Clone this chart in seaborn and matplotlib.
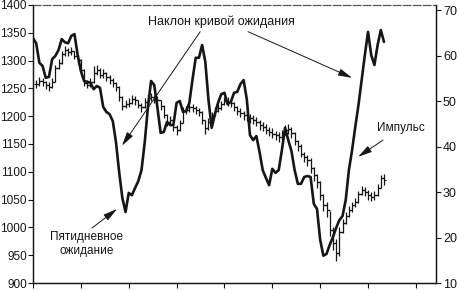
import numpy as np
import pandas as pd
import matplotlib
matplotlib.use("Agg")
import matplotlib.pyplot as plt
import seaborn as sns

# ---- data ----
price_close = [1258, 1264, 1262, 1256, 1253, 1262, 1287, 1296, 1312, 1319,
               1316, 1318, 1309, 1301, 1283, 1260, 1256, 1262, 1278, 1283,
               1274, 1278, 1271, 1265, 1260, 1253, 1235, 1219, 1222, 1224,
               1231, 1229, 1220, 1217, 1226, 1233, 1235, 1231, 1229, 1219,
               1202, 1190, 1193, 1181, 1175, 1188, 1210, 1211, 1217, 1215,
               1211, 1208, 1193, 1179, 1190, 1202, 1210, 1215, 1222, 1228,
               1226, 1224, 1217, 1210, 1206, 1202, 1199, 1197, 1193, 1190,
               1184, 1181, 1175, 1172, 1168, 1166, 1163, 1168, 1175, 1177,
               1170, 1156, 1147, 1132, 1127, 1121, 1107, 1094, 1082, 1058,
               1040, 1031, 995, 972, 954, 992, 1008, 1021, 1031, 1040,
               1046, 1060, 1067, 1064, 1058, 1055, 1058, 1071, 1089, 1085]
price_high = [1266, 1270, 1268, 1264, 1262, 1268, 1292, 1302, 1318, 1326,
              1322, 1324, 1318, 1310, 1302, 1284, 1265, 1268, 1290, 1292,
              1286, 1284, 1280, 1274, 1268, 1262, 1254, 1236, 1230, 1232,
              1238, 1236, 1230, 1224, 1232, 1240, 1242, 1238, 1236, 1230,
              1220, 1204, 1200, 1194, 1184, 1194, 1216, 1218, 1224, 1222,
              1218, 1215, 1210, 1194, 1196, 1208, 1216, 1222, 1228, 1234,
              1234, 1230, 1226, 1218, 1214, 1210, 1208, 1204, 1202, 1198,
              1194, 1190, 1186, 1180, 1178, 1174, 1172, 1176, 1184, 1186,
              1180, 1172, 1158, 1150, 1136, 1130, 1124, 1108, 1096, 1084,
              1060, 1046, 1030, 1000, 980, 1000, 1016, 1028, 1038, 1046,
              1052, 1066, 1074, 1072, 1068, 1064, 1066, 1078, 1094, 1096]
price_low = [1250, 1255, 1254, 1249, 1245, 1250, 1262, 1284, 1294, 1308,
             1309, 1310, 1302, 1294, 1278, 1255, 1250, 1252, 1260, 1274,
             1268, 1268, 1264, 1258, 1252, 1246, 1228, 1212, 1214, 1216,
             1222, 1220, 1214, 1208, 1215, 1224, 1228, 1224, 1220, 1212,
             1196, 1182, 1184, 1174, 1166, 1174, 1188, 1204, 1208, 1208,
             1204, 1200, 1186, 1168, 1176, 1188, 1200, 1208, 1212, 1220,
             1218, 1216, 1210, 1202, 1198, 1194, 1192, 1188, 1186, 1182,
             1176, 1174, 1168, 1164, 1160, 1158, 1154, 1158, 1166, 1168,
             1160, 1148, 1138, 1126, 1118, 1110, 1098, 1084, 1070, 1050,
             1030, 1018, 984, 960, 940, 948, 990, 1006, 1018, 1028,
             1036, 1044, 1058, 1056, 1050, 1048, 1050, 1056, 1070, 1076]

expectation = [63.8, 62.7, 58.4, 57.7, 55.1, 55.3, 59.2, 59.9, 61.2, 63.6,
               62.9, 62.7, 64.3, 64.7, 60.1, 56.6, 54.4, 54.2, 54.0, 52.6,
               53.3, 52.9, 48.7, 47.6, 47.1, 45.6, 41.0, 34.4, 28.7, 25.6,
               29.8, 29.3, 30.9, 32.4, 34.8, 40.8, 48.5, 54.4, 53.5, 48.5,
               43.0, 43.2, 45.4, 44.7, 44.7, 49.6, 50.0, 47.6, 47.8, 49.6,
               54.8, 59.5, 59.5, 62.3, 58.6, 50.2, 44.1, 47.1, 49.6, 51.5,
               51.8, 49.3, 49.8, 51.8, 52.0, 53.7, 54.6, 50.4, 42.5, 41.4,
               42.3, 38.8, 34.8, 33.1, 31.5, 35.1, 34.2, 34.8, 39.2, 44.1,
               41.4, 39.0, 34.8, 31.8, 31.8, 33.3, 33.5, 33.3, 27.4, 26.3,
               19.5, 16.0, 16.4, 18.4, 20.1, 22.1, 23.8, 24.7, 28.2, 34.8,
               39.2, 44.3, 49.1, 54.6, 60.1, 65.2, 60.1, 57.9, 62.3, 65.6,
               63.0]

left_ticks = [900, 950, 1000, 1050, 1100, 1150, 1200, 1250, 1300, 1350, 1400]
right_ticks = [10, 20, 30, 40, 50, 60, 70]

label_slope = "Наклон кривой ожидания"
label_five = "Пятидневное\nожидание"
label_impulse = "Импульс"

# ---- style ----
sns.set_theme(style="ticks")
plt.rcParams["font.family"] = ["Liberation Sans", "DejaVu Sans"]
INK = "#161616"

bar_days = np.arange(1, len(price_close) + 1)
price_open = [price_close[0]] + price_close[:-1]
line_df = pd.DataFrame({"day": np.arange(len(expectation)), "value": expectation})

fig = plt.figure(figsize=(4.59, 2.90), dpi=100)
ax = fig.add_axes([33 / 459, 7 / 290, (436 - 33) / 459, (283 - 5) / 290])
ax2 = ax.twinx()

# OHLC price bars
ax.vlines(bar_days, price_low, price_high, color=INK, lw=0.9)
ax.hlines(price_open, bar_days - 0.7, bar_days, color=INK, lw=0.9)
ax.hlines(price_close, bar_days, bar_days + 0.7, color=INK, lw=0.9)

# thick expectation curve on the right axis
sns.lineplot(data=line_df, x="day", y="value", ax=ax2, color=INK, lw=1.9,
             legend=False)

ax.set_xlim(0, 126.3)
ax.set_ylim(900, 1400)
ax2.set_ylim(10, 71.1)
ax.set_xticks(np.arange(0, 121, 15))
ax.set_xticklabels([])
ax.set_yticks(left_ticks)
ax.set_yticklabels([str(t) for t in left_ticks])
ax2.set_yticks(right_ticks)
ax2.set_yticklabels([str(t) for t in right_ticks])
ax2.set_xlabel("")
ax2.set_ylabel("")
ax.set_xlabel("")
ax.set_ylabel("")

for a in (ax, ax2):
    a.tick_params(axis="both", direction="out", length=3.5, width=0.8,
                  color=INK, labelsize=8.5, labelcolor=INK, pad=1.0)
    for s in a.spines.values():
        s.set_color(INK)
        s.set_linewidth(0.9)
ax2.tick_params(axis="y", labelsize=9, pad=1.5)
ax.spines["top"].set_linestyle((0, (6, 2)))
ax.spines["top"].set_color("#555555")
ax2.spines["top"].set_visible(False)

# annotations (in left-axis data coordinates)
arrow_kw = dict(arrowstyle="-|>,head_length=0.7,head_width=0.18",
                color=INK, lw=0.7, shrinkA=0, shrinkB=0)
ax.text(59.2, 1370, label_slope, ha="center", va="center", fontsize=9,
        color=INK)
ax.annotate("", xy=(27.9, 1147), xytext=(52.4, 1352), arrowprops=arrow_kw)
ax.annotate("", xy=(100.0, 1269), xytext=(67.4, 1352), arrowprops=arrow_kw)
ax.text(16.9, 970, label_five, ha="center", va="center", fontsize=8.5,
        color=INK, linespacing=1.15)
ax.annotate("", xy=(26.3, 1033), xytext=(18.5, 999), arrowprops=arrow_kw)
ax.text(115.4, 1179, label_impulse, ha="center", va="center", fontsize=8.5,
        color=INK)
ax.annotate("", xy=(101.9, 1127), xytext=(109.7, 1157), arrowprops=arrow_kw)

fig.savefig("out.png", dpi=100, facecolor="white")
